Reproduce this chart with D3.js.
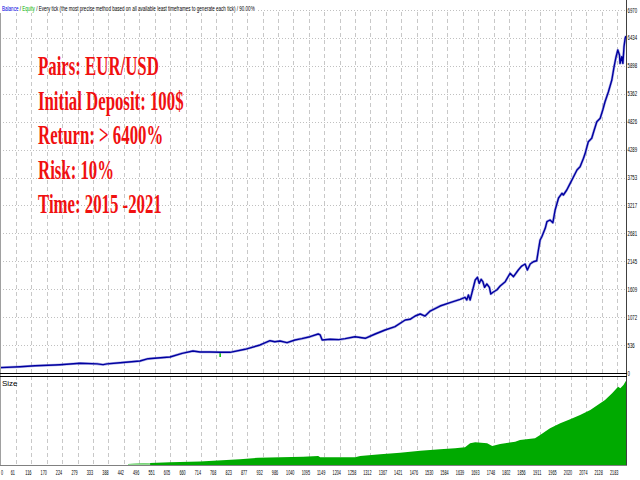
<!DOCTYPE html>
<html><head><meta charset="utf-8">
<script src="https://cdn.jsdelivr.net/npm/d3@7"></script>
<style>body{margin:0;background:#fff}svg{display:block}</style>
</head><body><svg id="c" width="640" height="480"></svg>
<script>
// ---- data ----
const balanceTrades = [0,76,129,199,217,288,348,369,383,429,499,528,605,648,686,711,746,782,817,870,923,958,975,993,1018,1046,1070,1099,1128,1135,1142,1170,1200,1223,1258,1294,1329,1364,1399,1435,1452,1470,1488,1505,1523,1558,1593,1629,1646,1652,1658,1664,1670,1682,1690,1696,1703,1709,1715,1723,1732,1737,1746,1758,1770,1788,1805,1817,1834,1846,1858,1866,1876,1887,1899,1905,1911,1917,1929,1935,1946,1956,1964,1976,1988,1993,2005,2017,2029,2041,2052,2064,2070,2081,2093,2100,2111,2123,2132,2140,2152,2164,2172,2179,2185,2191,2193,2199,2203,2207,2211,2214];
const balanceValues = [102,121,140,154,159,186,175,160,175,198,230,275,307,378,422,403,403,397,397,455,538,620,600,614,582,634,660,697,749,730,634,647,640,659,697,666,749,826,889,1018,1031,1094,1133,1094,1190,1286,1350,1415,1453,1402,1498,1402,1530,1786,1837,1722,1799,1753,1645,1709,1645,1517,1555,1594,1670,1753,1914,1849,1978,2054,2093,1978,2093,2137,2156,2362,2554,2617,2778,2905,2938,2886,3130,3360,3450,3418,3514,3642,3769,3898,3961,4122,4218,4441,4506,4633,4825,4890,5050,5209,5401,5626,5881,6073,6202,6106,5946,6073,5946,6265,6426,6470];
const equityTrades = [782, 782];
const equityValues = [397, 306];
const sizeTrades = [457,535,605,711,852,916,1075,1128,1135,1258,1276,1347,1417,1488,1558,1611,1646,1664,1682,1724,1742,1770,1823,1840,1893,1911,1946,1982,2017,2052,2088,2123,2140,2165,2186,2194,2205,2214];
const sizeLots = [0.01,0.02,0.027,0.035,0.057,0.073,0.083,0.09,0.077,0.077,0.09,0.107,0.123,0.143,0.157,0.167,0.177,0.217,0.227,0.217,0.19,0.21,0.233,0.25,0.267,0.30,0.367,0.417,0.457,0.50,0.55,0.617,0.65,0.717,0.783,0.767,0.80,0.843];
const yTickValues = [0,536,1072,1609,2145,2681,3217,3753,4289,4826,5362,5898,6434,6970];
const xTickValues = [0,61,116,170,224,279,333,388,442,496,551,605,660,714,768,823,877,932,986,1040,1095,1149,1204,1258,1312,1367,1421,1476,1530,1584,1639,1693,1748,1802,1856,1911,1965,2020,2074,2128,2183];
const infoLines = ["Pairs: EUR/USD","Initial Deposit: 100$","Return: > 6400%","Risk: 10%","Time: 2015 -2021"];
const headerParts = ["Balance", " / ", "Equity", " / Every tick (the most precise method based on all available least timeframes to generate each tick) / 90.00%"];
const subTitle = "Size";

// ---- layout / style ----
const headerColors = ["#0000e0", "#000", "#00b000", "#000"];
const FONT = "'Liberation Sans Narrow','Liberation Sans',sans-serif";

const svg = d3.select("#c");
const W = 626, mainBot = 373, subTop = 376, subBot = 465;
const x = d3.scaleLinear().domain([0, 2214]).range([-1.5, W]);
const y = d3.scaleLinear().domain([0, 6970]).range([mainBot, 10]);
const ys = d3.scaleLinear().domain([0, 0.88]).range([subBot, subTop + 1]);

const defs = svg.append("defs");
defs.append("clipPath").attr("id","clipMain")
  .append("rect").attr("x",0).attr("y",0).attr("width",W).attr("height",mainBot);
defs.append("clipPath").attr("id","clipSub")
  .append("rect").attr("x",0).attr("y",subTop).attr("width",W).attr("height",subBot-subTop);

// vertical grid
svg.append("g").selectAll("line").data(xTickValues.slice(1)).join("line")
  .attr("x1", d => Math.round(x(d)) + 0.5).attr("x2", d => Math.round(x(d)) + 0.5)
  .attr("y1", 12).attr("y2", subBot)
  .attr("stroke", "#c8c8c8").attr("stroke-width", 1).attr("stroke-dasharray", "4,3");
// horizontal grid (main)
svg.append("g").selectAll("line").data(yTickValues.slice(1)).join("line")
  .attr("x1", 0).attr("x2", W)
  .attr("y1", d => Math.round(y(d)) + 0.5).attr("y2", d => Math.round(y(d)) + 0.5)
  .attr("stroke", "#c0c0c0").attr("stroke-width", 1).attr("stroke-dasharray", "1,2");

// size area
const sizeData = sizeTrades.map((t,i) => ({t, v: sizeLots[i]}));
const area = d3.area().x(d => x(d.t)).y0(subBot).y1(d => ys(d.v));
svg.append("path").datum(sizeData).attr("clip-path","url(#clipSub)")
  .attr("d", area).attr("fill", "#00aa00");
svg.append("path").datum(sizeData.filter(d => d.t <= 535)).attr("clip-path","url(#clipSub)")
  .attr("d", area).attr("fill", "#8fdc8f");

// equity & balance
const line = d3.line().x(d => x(d.t)).y(d => y(d.v));
const bal = balanceTrades.map((t,i)=>({t, v: balanceValues[i]}));
svg.append("path").datum(equityTrades.map((t,i)=>({t, v: equityValues[i]})))
  .attr("d", line).attr("fill","none").attr("stroke","#00c000").attr("stroke-width",1.5);
svg.append("path").datum(bal).attr("clip-path","url(#clipMain)")
  .attr("d", line).attr("fill","none").attr("stroke","#8c8cdc").attr("stroke-width",2.6)
  .attr("stroke-linejoin","round").attr("opacity",0.7);
svg.append("path").datum(bal).attr("clip-path","url(#clipMain)")
  .attr("d", line).attr("fill","none").attr("stroke","#0000a0").attr("stroke-width",1.4)
  .attr("stroke-linejoin","round");

// borders
const b = svg.append("g").attr("fill","none");
b.append("line").attr("x1",0.5).attr("x2",0.5).attr("y1",12).attr("y2",subBot).attr("stroke","#a0a0a0");
b.append("line").attr("x1",W+0.5).attr("x2",W+0.5).attr("y1",0).attr("y2",subBot+0.5).attr("stroke","#404040");
b.append("line").attr("x1",0).attr("x2",W+1).attr("y1",mainBot+0.5).attr("y2",mainBot+0.5).attr("stroke","#000");
b.append("line").attr("x1",0).attr("x2",W+1).attr("y1",subTop+0.5).attr("y2",subTop+0.5).attr("stroke","#000");
b.append("line").attr("x1",0).attr("x2",W+1).attr("y1",subBot+0.5).attr("y2",subBot+0.5).attr("stroke","#808080");

// helper: squeeze a text horizontally to a target width
function squeeze(sel, tx, ty, target, anchor) {
  sel.each(function(d, i) {
    const t = d3.select(this);
    const L = this.getComputedTextLength();
    const w = typeof target === "function" ? target(d, i) : target;
    const s = L > 0 ? w / L : 1;
    t.attr("transform", `translate(${tx(d,i)},${ty(d,i)}) scale(${s},1)`);
  });
}

// header
svg.append("rect").attr("x",0).attr("y",2).attr("width",258).attr("height",11).attr("fill","#fff");
const ht = svg.append("text").attr("x",0).attr("y",0)
  .attr("font-family", FONT).attr("font-size", 8).attr("xml:space","preserve");
headerParts.forEach((p,i) => ht.append("tspan").attr("fill", headerColors[i]).text(p));
squeeze(ht, () => 2, () => 11, 253);

svg.append("text").attr("x",2).attr("y",386).attr("font-family",FONT)
  .attr("font-size",8).attr("fill","#000").text(subTitle);

// right axis labels
const yl = svg.append("g").selectAll("text").data(yTickValues).join("text")
  .attr("font-family",FONT).attr("font-size",7.5).attr("fill","#000").text(d => d);
squeeze(yl, () => 627.5, d => y(d) + 2.5, d => String(d).length * 2.4);

// bottom axis labels
const xl = svg.append("g").selectAll("text").data(xTickValues).join("text")
  .attr("text-anchor","middle")
  .attr("font-family",FONT).attr("font-size",7.5).attr("fill","#000").text(d => d);
squeeze(xl, d => Math.max(x(d) - 3, 2), () => 474.5, d => String(d).length * 2.1);

// info text
const info = svg.append("g").attr("transform","translate(38,0) scale(0.6,1)");
info.selectAll("text").data(infoLines).join("text")
  .attr("x", 0).attr("y", (d,i) => 75 + i*34.6)
  .attr("font-family","'Liberation Serif','Times New Roman',serif").attr("font-weight","bold")
  .attr("font-size", 28).attr("fill", "#f01010").text(d => d);
</script></body></html>
